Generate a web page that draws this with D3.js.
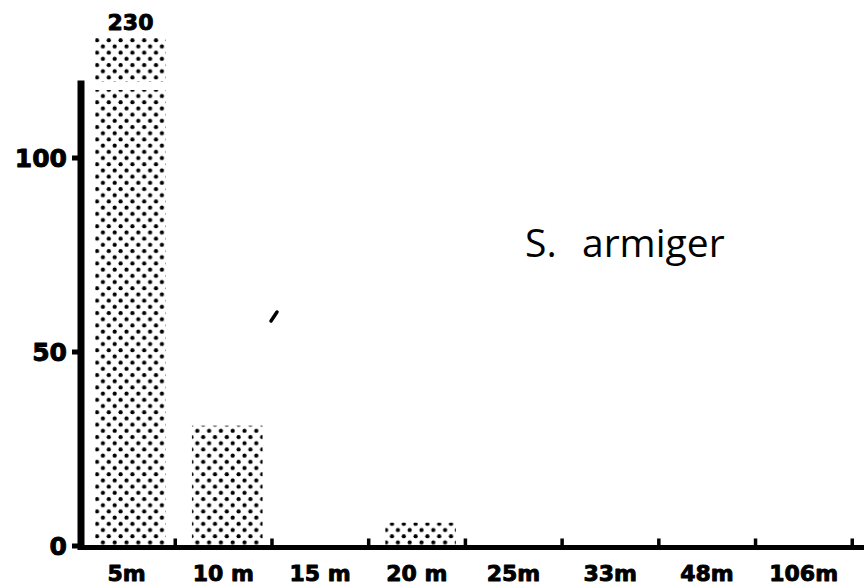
<!DOCTYPE html>
<html>
<head>
<meta charset="utf-8">
<script src="https://cdn.jsdelivr.net/npm/d3@7"></script>
<style>
  html, body { margin: 0; padding: 0; background: #fff; }
  svg { display: block; }
</style>
</head>
<body>
<svg id="chart" width="864" height="588"></svg>
<script>
// Catch per depth station
const depths = ["5m", "10 m", "15 m", "20 m", "25m", "33m", "48m", "106m"];
const counts = [230, 31, 0, 6, 0, 0, 0, 0];
const yTicks = [0, 50, 100];
const speciesName = ["S.", "armiger"];

// axis is cut at 117.5 and resumes at 218.7 for the tall first bar
const breakLow = 117.5, breakHigh = 218.7, axisTop = 120;

const svg = d3.select("#chart");
const ink = "#000";

const x = d3.scaleBand().domain(depths).range([78.3, 852]);
const y = d3.scaleLinear()
  .domain([0, breakLow, breakHigh, 230])
  .range([546, 90, 82, 38]);
const yAxisScale = d3.scaleLinear().domain([0, axisTop]).range([546, 546 - axisTop * 3.88]);

// stipple fill
const defs = svg.append("defs");
const pat = defs.append("pattern")
  .attr("id", "stipple")
  .attr("patternUnits", "userSpaceOnUse")
  .attr("width", 11.8).attr("height", 12.4);
pat.append("circle").attr("cx", 2.6).attr("cy", 3).attr("r", 2.1).attr("fill", ink);
pat.append("circle").attr("cx", 8.5).attr("cy", 9.2).attr("r", 2.1).attr("fill", ink);

// bars (split into two pieces where the value exceeds the axis break)
const bw = x.bandwidth();
const segments = [];
depths.forEach((d, i) => {
  const v = counts[i];
  if (v <= 0) return;
  if (v > breakHigh) {
    segments.push({ d, lo: 0, hi: breakLow });
    segments.push({ d, lo: breakHigh, hi: v });
  } else {
    segments.push({ d, lo: 0, hi: v });
  }
});
const barX = d => x(d) + bw * 0.175;
const barW = bw * 0.73;
svg.append("g").selectAll("rect").data(segments).join("rect")
  .attr("x", s => barX(s.d))
  .attr("width", barW)
  .attr("y", s => y(s.hi))
  .attr("height", s => y(s.lo) - y(s.hi))
  .attr("fill", "url(#stipple)");

// heavy print style shared by the numeric labels
function heavy(sel, size) {
  sel.attr("font-family", "DejaVu Sans")
    .attr("font-weight", "bold")
    .attr("font-size", size)
    .attr("fill", ink)
    .attr("stroke", ink)
    .attr("stroke-width", 0.9)
    .attr("stroke-linejoin", "round");
}

// value printed over the truncated bar
depths.forEach((d, i) => {
  if (counts[i] > breakHigh) {
    svg.append("text")
      .attr("x", barX(d) + barW / 2)
      .attr("y", y(counts[i]) - 8)
      .attr("text-anchor", "middle")
      .call(heavy, 22)
      .text(counts[i]);
  }
});

// y axis
const yAxisX = 81;
svg.append("line")
  .attr("x1", yAxisX).attr("x2", yAxisX)
  .attr("y1", yAxisScale(axisTop)).attr("y2", yAxisScale(0) + 4)
  .attr("stroke", ink).attr("stroke-width", 7);
const yg = svg.append("g");
yg.selectAll("rect").data(yTicks).join("rect")
  .attr("x", yAxisX - 9).attr("width", 6)
  .attr("y", v => yAxisScale(v) - 2.5).attr("height", 5)
  .attr("fill", ink);
yg.selectAll("text").data(yTicks).join("text")
  .attr("x", 67)
  .attr("y", v => yAxisScale(v))
  .attr("dy", "0.36em")
  .attr("text-anchor", "end")
  .call(heavy, 25)
  .text(v => v);

// x axis baseline with boundary nubs
const baseY = yAxisScale(0) + 1.5;
svg.append("line")
  .attr("x1", yAxisX - 3).attr("x2", 864)
  .attr("y1", baseY).attr("y2", baseY)
  .attr("stroke", ink).attr("stroke-width", 5);
svg.append("g").selectAll("rect").data(depths).join("rect")
  .attr("x", d => x(d) + bw - 1.5).attr("width", 3.5)
  .attr("y", baseY - 9).attr("height", 9)
  .attr("fill", ink);
svg.append("g").selectAll("text").data(depths).join("text")
  .attr("x", d => x(d) + bw / 2)
  .attr("y", 581)
  .attr("text-anchor", "middle")
  .call(heavy, 22)
  .text(d => d);

// species name
const title = svg.append("text")
  .attr("y", 257)
  .attr("font-family", "Open Sans")
  .attr("font-size", 39)
  .attr("fill", ink);
title.append("tspan").attr("x", 525).text(speciesName[0]);
title.append("tspan").attr("x", 582).text(speciesName[1]);

// small pen stroke
svg.append("line")
  .attr("x1", 271).attr("y1", 321).attr("x2", 277).attr("y2", 312)
  .attr("stroke", ink).attr("stroke-width", 3.5).attr("stroke-linecap", "round");
</script>
</body>
</html>
